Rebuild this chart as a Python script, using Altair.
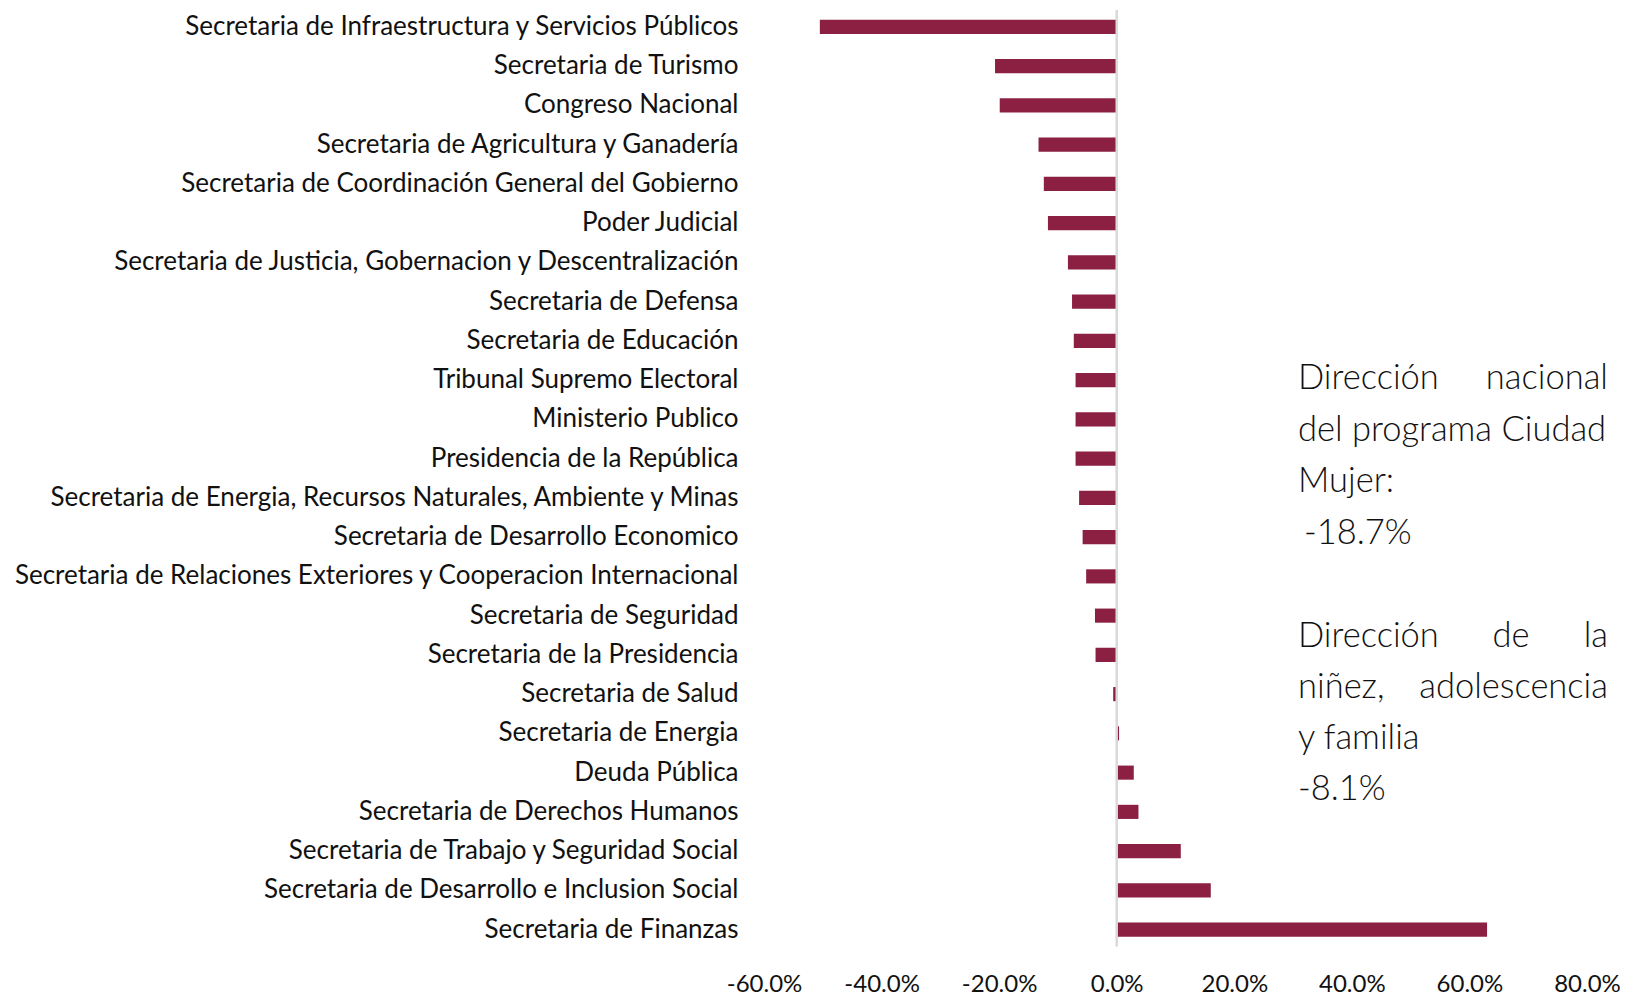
import altair as alt
import pandas as pd

categories = [
    "Secretaria de Infraestructura y Servicios Públicos",
    "Secretaria de Turismo",
    "Congreso Nacional",
    "Secretaria de Agricultura y Ganadería",
    "Secretaria de Coordinación General del Gobierno",
    "Poder Judicial",
    "Secretaria de Justicia, Gobernacion  y Descentralización",
    "Secretaria de Defensa",
    "Secretaria de Educación",
    "Tribunal Supremo Electoral",
    "Ministerio Publico",
    "Presidencia de la República",
    "Secretaria de Energia, Recursos Naturales, Ambiente y Minas",
    "Secretaria de Desarrollo Economico",
    "Secretaria de Relaciones Exteriores y Cooperacion Internacional",
    "Secretaria de Seguridad",
    "Secretaria de la Presidencia",
    "Secretaria de Salud",
    "Secretaria de Energia",
    "Deuda Pública",
    "Secretaria de Derechos Humanos",
    "Secretaria de Trabajo y Seguridad Social",
    "Secretaria de Desarrollo e Inclusion Social",
    "Secretaria de Finanzas",
]
values = [-50.5, -20.7, -19.9, -13.3, -12.4, -11.7, -8.3, -7.6, -7.3, -7.0, -7.0, -7.0,
          -6.4, -5.8, -5.2, -3.7, -3.6, -0.6, 0.4, 2.9, 3.7, 10.9, 16.0, 63.0]
tick_values = [-60, -40, -20, 0, 20, 40, 60, 80]

df = pd.DataFrame({"categoria": categories, "valor": values})

PLOT_LEFT = 764
PLOT_TOP = 8
W = 823
H = 936.5
FONT = "Lato"

bars = alt.Chart(df).mark_bar(color="#8B2042").encode(
    x=alt.X("valor:Q",
            scale=alt.Scale(domain=[-60, 80], nice=False),
            axis=alt.Axis(values=tick_values, grid=False, domain=False, ticks=False,
                          labelExpr="(datum.value < 0 ? '-' : '') + format(abs(datum.value), '.1f') + '%'",
                          labelFont=FONT, labelFontSize=24, labelFontWeight="normal",
                          labelColor="#111111", labelPadding=26, labelFlush=False,
                          labelOverlap=False, title=None)),
    y=alt.Y("categoria:N", sort=categories,
            scale=alt.Scale(paddingInner=0.64, paddingOuter=0.25),
            axis=alt.Axis(grid=False, domain=False, ticks=False, title=None,
                          labelFont=FONT, labelFontSize=26, labelColor="#111111",
                          labelPadding=26, labelLimit=1000,
                          minExtent=PLOT_LEFT - 8, maxExtent=PLOT_LEFT - 8)),
)

zero = alt.Chart(pd.DataFrame({"z": [0]})).mark_rule(color="#d9d9d9", strokeWidth=2.5).encode(
    x=alt.X("z:Q")
)


def txt(text, page_x, page_y, align="left"):
    return alt.Chart(pd.DataFrame({"t": [text]})).mark_text(
        font=FONT, fontSize=34.5, fontWeight=300, color="#111111",
        align=align, baseline="alphabetic"
    ).encode(text="t:N", x=alt.value(page_x - PLOT_LEFT), y=alt.value(page_y - PLOT_TOP))


L, R = 1298, 1608
notes = [
    txt("Dirección", L, 387), txt("nacional", R, 387, "right"),
    txt("del programa Ciudad", L, 439),
    txt("Mujer:", L, 490),
    txt("-18.7%", 1304, 542),
    txt("Dirección", L, 645), txt("de", 1511, 645, "center"), txt("la", R, 645, "right"),
    txt("niñez,", L, 696), txt("adolescencia", R, 696, "right"),
    txt("y familia", L, 747),
    txt("-8.1%", L, 798),
]

chart = alt.layer(bars, zero, *notes).properties(
    width=W, height=H, padding=0, background="white"
).configure_view(stroke="transparent", strokeWidth=0)

chart.save("out.html", embed_options={"renderer": "svg", "actions": False})
